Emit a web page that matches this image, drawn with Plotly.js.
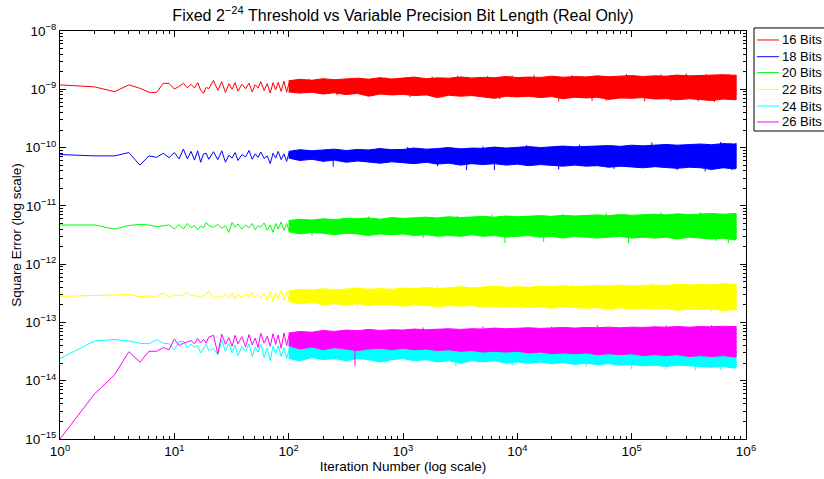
<!DOCTYPE html>
<html>
<head>
<meta charset="utf-8">
<script src="https://cdn.plot.ly/plotly-3.0.1.min.js"></script>
<style>html,body{margin:0;padding:0;background:#fff;}#chart{width:824px;height:479px;}</style>
</head>
<body>
<div id="chart"></div>
<script>
// Early iterations (individual points visible)
const iter = [1,2,3,4,5,6,7,8,9,10,11,12,13,14,15,16,17,18,19,20,
  22,24,26,28,30,32,34,36,39,42,45,48,51,54,57,61,65,69,73,77,81,86,91,96,101];

const err16 = [1.19e-9,1.10e-9,9.1e-10,1.19e-9,1.04e-9,8.9e-10,8.8e-10,1.27e-9,1.26e-9,1.01e-9,
  1.12e-9,1.27e-9,1.06e-9,1.22e-9,1.05e-9,1.30e-9,9.6e-10,8.5e-10,1.08e-9,1.02e-9,
  1.42e-9,9.6e-10,1.35e-9,8.8e-10,1.25e-9,1.0e-9,1.3e-9,9.3e-10,1.22e-9,1.02e-9,
  1.28e-9,9.0e-10,1.2e-9,1.05e-9,1.35e-9,9.5e-10,1.25e-9,8.6e-10,1.3e-9,9.8e-10,
  1.32e-9,9.2e-10,1.38e-9,8.9e-10,1.3e-9];
const err18 = [7.6e-11,7.2e-11,7.2e-11,8.2e-11,5.0e-11,7.2e-11,6.8e-11,8.0e-11,6.7e-11,8.2e-11,
  6.4e-11,9.4e-11,6.4e-11,8.6e-11,6.1e-11,8.8e-11,5.6e-11,7.8e-11,8.0e-11,6.3e-11,
  8.5e-11,6.2e-11,8.8e-11,5.6e-11,7.4e-11,6.6e-11,8.2e-11,6.0e-11,7.6e-11,6.9e-11,
  8.9e-11,6.3e-11,7.8e-11,6.8e-11,8.4e-11,6.5e-11,7.2e-11,5.3e-11,8.0e-11,6.6e-11,
  8.6e-11,6.2e-11,7.8e-11,5.8e-11,8.3e-11];
const err20 = [4.7e-12,4.7e-12,4.0e-12,4.6e-12,4.8e-12,4.7e-12,4.4e-12,4.6e-12,4.7e-12,4.0e-12,
  4.8e-12,4.0e-12,5.0e-12,4.2e-12,4.6e-12,3.9e-12,4.5e-12,4.2e-12,5.2e-12,4.6e-12,
  4.3e-12,4.8e-12,4.1e-12,4.6e-12,3.5e-12,5.2e-12,4.3e-12,4.9e-12,4.0e-12,4.7e-12,
  4.2e-12,5.0e-12,3.9e-12,4.6e-12,4.3e-12,5.1e-12,3.8e-12,4.7e-12,3.5e-12,5.0e-12,
  4.0e-12,5.3e-12,3.8e-12,5.0e-12,3.7e-12];
const err22 = [2.8e-13,2.9e-13,2.95e-13,3.0e-13,2.75e-13,2.85e-13,2.8e-13,3.2e-13,2.7e-13,2.95e-13,
  2.85e-13,2.95e-13,3.3e-13,2.8e-13,2.9e-13,2.75e-13,2.7e-13,2.9e-13,3.0e-13,3.5e-13,
  2.6e-13,2.8e-13,2.65e-13,3.1e-13,2.6e-13,3.2e-13,2.5e-13,3.0e-13,2.7e-13,3.1e-13,
  2.6e-13,3.3e-13,2.7e-13,3.0e-13,2.6e-13,3.2e-13,2.4e-13,3.4e-13,2.3e-13,3.3e-13,
  2.6e-13,3.5e-13,2.4e-13,3.4e-13,2.3e-13];
const err24 = [2.4e-14,4.8e-14,5.1e-14,4.8e-14,4.4e-14,4.3e-14,5.1e-14,4.4e-14,4.3e-14,3.4e-14,
  4.7e-14,4.7e-14,3.7e-14,4.2e-14,3.8e-14,4.0e-14,3.0e-14,3.6e-14,4.2e-14,3.3e-14,
  3.6e-14,2.8e-14,5.0e-14,3.2e-14,4.4e-14,3.0e-14,4.1e-14,2.7e-14,3.9e-14,3.2e-14,
  4.3e-14,2.6e-14,3.8e-14,3.1e-14,4.2e-14,2.5e-14,3.6e-14,2.2e-14,3.9e-14,2.9e-14,
  4.0e-14,2.6e-14,3.7e-14,2.4e-14,3.5e-14];
const err26 = [1.0e-15,5.9e-15,1.26e-14,3.15e-14,2.08e-14,3.2e-14,3.2e-14,3.7e-14,3.4e-14,5.2e-14,
  4.0e-14,4.4e-14,4.6e-14,4.9e-14,4.3e-14,5.3e-14,4.5e-14,5.1e-14,4.4e-14,5.6e-14,
  6.0e-14,2.9e-14,6.3e-14,4.2e-14,5.5e-14,3.9e-14,6.0e-14,4.3e-14,5.7e-14,3.8e-14,
  6.2e-14,4.1e-14,5.4e-14,3.7e-14,6.5e-14,4.4e-14,5.8e-14,3.9e-14,6.4e-14,4.2e-14,
  6.1e-14,3.6e-14,6.6e-14,4.0e-14,6.2e-14];

// Dense region: upper / lower envelope of the noisy band
const bandIter = [100,125,160,200,250,320,400,500,630,800,1000,1250,1600,2000,2500,3200,4000,5000,6300,8000,
  10000,12500,16000,20000,25000,32000,40000,50000,63000,80000,100000,125000,160000,200000,250000,
  320000,400000,500000,630000,800000,820000];

const top16 = [1.40e-9,1.48e-9,1.43e-9,1.52e-9,1.46e-9,1.50e-9,1.55e-9,1.49e-9,1.58e-9,1.50e-9,
  1.54e-9,1.62e-9,1.52e-9,1.57e-9,1.55e-9,1.63e-9,1.56e-9,1.60e-9,1.58e-9,1.66e-9,
  1.59e-9,1.62e-9,1.60e-9,1.68e-9,1.61e-9,1.65e-9,1.63e-9,1.70e-9,1.64e-9,1.67e-9,
  1.72e-9,1.66e-9,1.70e-9,1.68e-9,1.75e-9,1.70e-9,1.73e-9,1.71e-9,1.78e-9,1.74e-9,1.76e-9];
const bot16 = [9.0e-10,8.6e-10,8.9e-10,8.3e-10,8.7e-10,8.1e-10,8.5e-10,7.6e-10,8.3e-10,8.0e-10,
  8.2e-10,7.8e-10,8.0e-10,7.2e-10,7.9e-10,7.6e-10,7.8e-10,7.4e-10,7.0e-10,7.6e-10,
  7.4e-10,7.6e-10,7.2e-10,7.5e-10,6.9e-10,7.3e-10,7.1e-10,7.3e-10,6.7e-10,7.1e-10,
  7.0e-10,7.2e-10,6.8e-10,6.9e-10,6.6e-10,6.9e-10,6.7e-10,6.4e-10,6.8e-10,6.6e-10,6.6e-10];
const top18 = [8.6e-11,9.2e-11,8.8e-11,9.0e-11,9.4e-11,8.9e-11,9.3e-11,9.1e-11,9.6e-11,9.2e-11,
  9.3e-11,9.8e-11,9.4e-11,9.6e-11,1.00e-10,9.5e-11,9.8e-11,9.7e-11,1.02e-10,9.8e-11,
  1.00e-10,1.04e-10,1.00e-10,1.02e-10,1.06e-10,1.03e-10,1.05e-10,1.04e-10,1.08e-10,1.05e-10,
  1.10e-10,1.07e-10,1.09e-10,1.13e-10,1.10e-10,1.12e-10,1.15e-10,1.12e-10,1.17e-10,1.15e-10,1.18e-10];
const bot18 = [6.6e-11,6.0e-11,6.3e-11,5.8e-11,6.1e-11,5.6e-11,5.9e-11,5.7e-11,5.4e-11,5.7e-11,
  5.5e-11,5.3e-11,5.6e-11,5.2e-11,5.4e-11,5.0e-11,5.3e-11,5.1e-11,5.3e-11,5.0e-11,
  5.2e-11,4.9e-11,5.1e-11,5.0e-11,4.8e-11,5.0e-11,4.8e-11,4.9e-11,4.6e-11,4.8e-11,
  4.7e-11,4.5e-11,4.7e-11,4.6e-11,4.4e-11,4.6e-11,4.5e-11,4.2e-11,4.5e-11,4.3e-11,4.4e-11];
const top20 = [5.6e-12,5.9e-12,5.7e-12,6.0e-12,5.8e-12,6.1e-12,6.0e-12,6.2e-12,5.9e-12,6.3e-12,
  6.1e-12,6.2e-12,6.4e-12,6.2e-12,6.5e-12,6.3e-12,6.4e-12,6.6e-12,6.4e-12,6.7e-12,
  6.5e-12,6.6e-12,6.8e-12,6.6e-12,6.9e-12,6.7e-12,6.8e-12,7.0e-12,6.8e-12,7.1e-12,
  6.9e-12,7.0e-12,7.2e-12,7.0e-12,7.3e-12,7.1e-12,7.3e-12,7.4e-12,7.2e-12,7.5e-12,7.4e-12];
const bot20 = [3.6e-12,3.3e-12,3.5e-12,3.4e-12,3.2e-12,3.4e-12,3.3e-12,3.1e-12,3.3e-12,3.2e-12,
  3.3e-12,3.1e-12,3.2e-12,3.0e-12,3.1e-12,3.0e-12,3.2e-12,3.0e-12,3.1e-12,2.9e-12,
  3.0e-12,3.1e-12,2.9e-12,3.0e-12,2.8e-12,3.0e-12,2.9e-12,2.8e-12,2.9e-12,3.0e-12,
  2.8e-12,2.9e-12,2.8e-12,2.9e-12,2.7e-12,2.9e-12,2.8e-12,2.7e-12,2.8e-12,2.6e-12,2.7e-12];
const top22 = [3.5e-13,3.7e-13,3.6e-13,3.8e-13,3.6e-13,3.7e-13,3.9e-13,3.7e-13,3.8e-13,3.7e-13,
  3.9e-13,3.8e-13,4.0e-13,3.8e-13,3.9e-13,4.1e-13,3.9e-13,4.0e-13,4.2e-13,4.0e-13,
  4.1e-13,4.0e-13,4.2e-13,4.1e-13,4.3e-13,4.1e-13,4.2e-13,4.3e-13,4.2e-13,4.4e-13,
  4.2e-13,4.3e-13,4.4e-13,4.3e-13,4.5e-13,4.4e-13,4.5e-13,4.4e-13,4.6e-13,4.5e-13,4.5e-13];
const bot22 = [2.3e-13,2.1e-13,2.2e-13,2.0e-13,2.1e-13,2.0e-13,2.1e-13,1.95e-13,2.05e-13,2.0e-13,
  1.9e-13,2.0e-13,1.95e-13,1.85e-13,1.95e-13,1.9e-13,1.95e-13,1.85e-13,1.9e-13,1.85e-13,
  1.9e-13,1.8e-13,1.85e-13,1.75e-13,1.85e-13,1.8e-13,1.75e-13,1.8e-13,1.7e-13,1.78e-13,
  1.72e-13,1.76e-13,1.7e-13,1.74e-13,1.62e-13,1.7e-13,1.66e-13,1.7e-13,1.6e-13,1.66e-13,1.64e-13];
const top24 = [4.5e-14,4.3e-14,4.6e-14,4.2e-14,4.4e-14,4.1e-14,4.3e-14,4.0e-14,4.2e-14,4.1e-14,
  4.2e-14,4.0e-14,4.1e-14,3.9e-14,4.0e-14,3.9e-14,3.8e-14,3.9e-14,3.7e-14,3.8e-14,
  3.8e-14,3.7e-14,3.6e-14,3.7e-14,3.5e-14,3.6e-14,3.5e-14,3.6e-14,3.4e-14,3.5e-14,
  3.5e-14,3.4e-14,3.3e-14,3.4e-14,3.3e-14,3.3e-14,3.2e-14,3.3e-14,3.2e-14,3.2e-14,3.2e-14];
const bot24 = [2.4e-14,2.2e-14,2.5e-14,2.3e-14,2.4e-14,2.2e-14,2.4e-14,2.3e-14,2.1e-14,2.3e-14,
  2.4e-14,2.2e-14,2.3e-14,2.1e-14,2.2e-14,2.0e-14,2.2e-14,2.1e-14,2.2e-14,2.0e-14,
  2.1e-14,2.0e-14,2.1e-14,1.95e-14,2.05e-14,1.9e-14,2.0e-14,1.9e-14,1.95e-14,1.85e-14,
  1.9e-14,1.8e-14,1.85e-14,1.75e-14,1.85e-14,1.8e-14,1.75e-14,1.7e-14,1.75e-14,1.65e-14,1.7e-14];
const top26 = [6.6e-14,7.0e-14,6.8e-14,7.3e-14,7.0e-14,7.4e-14,7.2e-14,7.6e-14,7.3e-14,7.5e-14,
  7.4e-14,7.7e-14,7.5e-14,7.6e-14,7.8e-14,7.6e-14,7.8e-14,7.7e-14,8.0e-14,7.8e-14,
  7.9e-14,8.1e-14,7.9e-14,8.0e-14,8.2e-14,8.0e-14,8.2e-14,8.1e-14,8.3e-14,8.1e-14,
  8.3e-14,8.2e-14,8.4e-14,8.3e-14,8.5e-14,8.3e-14,8.5e-14,8.4e-14,8.6e-14,8.5e-14,8.6e-14];
const bot26 = [4.0e-14,3.5e-14,3.8e-14,3.4e-14,3.7e-14,3.5e-14,3.3e-14,3.5e-14,3.6e-14,3.4e-14,
  3.6e-14,3.4e-14,3.5e-14,3.3e-14,3.4e-14,3.2e-14,3.3e-14,3.1e-14,3.2e-14,3.1e-14,
  3.2e-14,3.0e-14,3.1e-14,2.9e-14,3.0e-14,2.9e-14,3.0e-14,2.8e-14,2.9e-14,2.8e-14,
  2.9e-14,2.7e-14,2.8e-14,2.7e-14,2.8e-14,2.6e-14,2.7e-14,2.6e-14,2.7e-14,2.55e-14,2.6e-14];

// Isolated outlier spikes poking out of each band (iteration, extreme value)
const spikeIter16 = [150,265,420,550,700,1150,1800,2200,3000,5500,7000,9000,14000,23000,30000,45000,60000,90000,130000,180000,220000,300000,380000,450000,530000,700000];
const spikeVal16  = [1.5e-9,7.9e-10,1.58e-9,7.6e-10,1.6e-9,7.3e-10,1.65e-9,7.2e-10,1.71e-9,1.7e-9,6.8e-10,1.72e-9,1.77e-9,6.2e-10,1.75e-9,6.3e-10,6.4e-10,1.83e-9,6.2e-10,1.8e-9,6.2e-10,1.87e-9,6.2e-10,1.82e-9,6.0e-10,1.8e-9];
const spikeIter18 = [180,245,600,1100,2000,3600,5000,6300,12000,23000,35000,70000,150000,250000,440000,600000,750000];
const spikeVal18  = [9.2e-11,4.7e-11,9.7e-11,1.03e-10,4.8e-11,4.1e-11,1.05e-10,4.1e-11,1.1e-10,4.2e-11,1.12e-10,4.3e-11,1.22e-10,4.1e-11,3.9e-11,1.25e-10,4.1e-11];
const spikeIter20 = [160,300,500,1500,3000,6000,7800,17000,25000,60000,94000,180000,400000,550000,700000];
const spikeVal20  = [3.1e-12,6.3e-12,6.6e-12,2.8e-12,6.8e-12,7.1e-12,2.3e-12,2.4e-12,7.3e-12,7.6e-12,2.3e-12,7.7e-12,7.8e-12,2.5e-12,2.3e-12];
const spikeIter22 = [250,400,900,2000,4500,11000,30000,67000,150000,300000,500000,650000];
const spikeVal22  = [4.0e-13,1.8e-13,4.1e-13,4.3e-13,1.75e-13,1.65e-13,4.6e-13,1.55e-13,4.7e-13,4.8e-13,1.5e-13,4.8e-13];
const spikeIter24 = [700,2900,9000,40000,100000,200000,360000,600000];
const spikeVal24  = [2.0e-14,1.75e-14,1.8e-14,1.75e-14,1.6e-14,1.6e-14,1.52e-14,1.55e-14];
const spikeIter26 = [380,1500,5000,20000,50000,200000,500000];
const spikeVal26  = [1.8e-14,8.2e-14,8.6e-14,8.5e-14,8.9e-14,8.9e-14,9.0e-14];
// typical level inside each band (spikes start from it)
const level = [1.1e-9, 7.2e-11, 4.5e-12, 2.8e-13, 2.6e-14, 5.0e-14];

const names = ['16 Bits','18 Bits','20 Bits','22 Bits','24 Bits','26 Bits'];
const colors = ['#ff0000','#0000ff','#00ff00','#ffff00','#00ffff','#ff00ff'];
const early = [err16, err18, err20, err22, err24, err26];
const tops = [top16, top18, top20, top22, top24, top26];
const bots = [bot16, bot18, bot20, bot22, bot24, bot26];
const spkX = [spikeIter16, spikeIter18, spikeIter20, spikeIter22, spikeIter24, spikeIter26];
const spkY = [spikeVal16, spikeVal18, spikeVal20, spikeVal22, spikeVal24, spikeVal26];

const decades = [1, 10, 100, 1000, 10000, 100000, 1000000];
const decadeText = ['10<sup>0</sup>','10<sup>1</sup>','10<sup>2</sup>','10<sup>3</sup>','10<sup>4</sup>','10<sup>5</sup>','10<sup>6</sup>'];
const yDecades = [1e-15, 1e-14, 1e-13, 1e-12, 1e-11, 1e-10, 1e-9, 1e-8];
const yDecadeText = ['10<sup>−15</sup>','10<sup>−14</sup>','10<sup>−13</sup>','10<sup>−12</sup>','10<sup>−11</sup>','10<sup>−10</sup>','10<sup>−9</sup>','10<sup>−8</sup>'];

const traces = [];
names.forEach((n, i) => {
  traces.push({
    x: iter, y: early[i], type: 'scatter', mode: 'lines', name: n,
    showlegend: false, line: {color: colors[i], width: 1}, hoverinfo: 'skip'
  });
});
names.forEach((n, i) => {
  traces.push({
    x: bandIter.concat(bandIter.slice().reverse()),
    y: tops[i].concat(bots[i].slice().reverse()),
    type: 'scatter', mode: 'lines', fill: 'toself', fillcolor: colors[i], name: n,
    line: {color: colors[i], width: 1}, showlegend: false, hoverinfo: 'skip'
  });
  const sx = [], sy = [];
  spkX[i].forEach((x, k) => { sx.push(x, x, null); sy.push(level[i], spkY[i][k], null); });
  traces.push({
    x: sx, y: sy, type: 'scatter', mode: 'lines', name: n, connectgaps: false,
    line: {color: colors[i], width: 1}, showlegend: false, hoverinfo: 'skip'
  });
});

const font = 'Liberation Sans, Arial, Helvetica, sans-serif';
const axisCommon = {
  type: 'log', showgrid: false, zeroline: false,
  showline: true, linecolor: '#000', linewidth: 1, mirror: 'allticks',
  ticks: 'inside', ticklen: 6, tickcolor: '#000', tickwidth: 1,
  tickmode: 'array',
  tickfont: {family: font, size: 13.5, color: '#000'},
  minor: {ticks: 'inside', ticklen: 3, tickcolor: '#000', tickmode: 'linear', dtick: 'D1', showgrid: false}
};

// Legend drawn as a MATLAB-style box at the top right
const legX0 = 1.0117, legX1 = 1.13, legY0 = 0.7549, legY1 = 1.0074;
const rowY = [0.978, 0.937, 0.898, 0.857, 0.816, 0.777];
const shapes = [{type: 'rect', xref: 'paper', yref: 'paper', x0: legX0, x1: legX1, y0: legY0, y1: legY1,
  line: {color: '#000', width: 1}, fillcolor: '#fff'}];
const annotations = [];
names.forEach((n, i) => {
  shapes.push({type: 'line', xref: 'paper', yref: 'paper', x0: 1.016, x1: 1.048, y0: rowY[i], y1: rowY[i],
    line: {color: colors[i], width: 1}});
  annotations.push({xref: 'paper', yref: 'paper', x: 1.0496, y: rowY[i], xanchor: 'left', yanchor: 'middle',
    text: n, showarrow: false, font: {family: font, size: 13, color: '#000'}});
});

const layout = {
  width: 824, height: 479,
  margin: {l: 60, r: 78, t: 31, b: 40, autoexpand: false},
  paper_bgcolor: '#fff', plot_bgcolor: '#fff',
  font: {family: font, color: '#000'},
  showlegend: false,
  title: {text: 'Fixed 2<sup>−24</sup> Threshold vs Variable Precision Bit Length (Real Only)',
    font: {family: font, size: 16, color: '#000'}, xref: 'paper', x: 0.5, xanchor: 'center',
    yref: 'container', y: 0.968, yanchor: 'middle'},
  xaxis: Object.assign({}, axisCommon, {range: [0, 6], tickvals: decades, ticktext: decadeText,
    title: {text: 'Iteration Number (log scale)', font: {family: font, size: 13.5, color: '#000'}, standoff: 2}}),
  yaxis: Object.assign({}, axisCommon, {range: [-15, -8], tickvals: yDecades, ticktext: yDecadeText,
    title: {text: 'Square Error (log scale)', font: {family: font, size: 13.5, color: '#000'}, standoff: 0}}),
  shapes: shapes,
  annotations: annotations
};

Plotly.newPlot('chart', traces, layout, {displayModeBar: false, staticPlot: true});
</script>
</body>
</html>
